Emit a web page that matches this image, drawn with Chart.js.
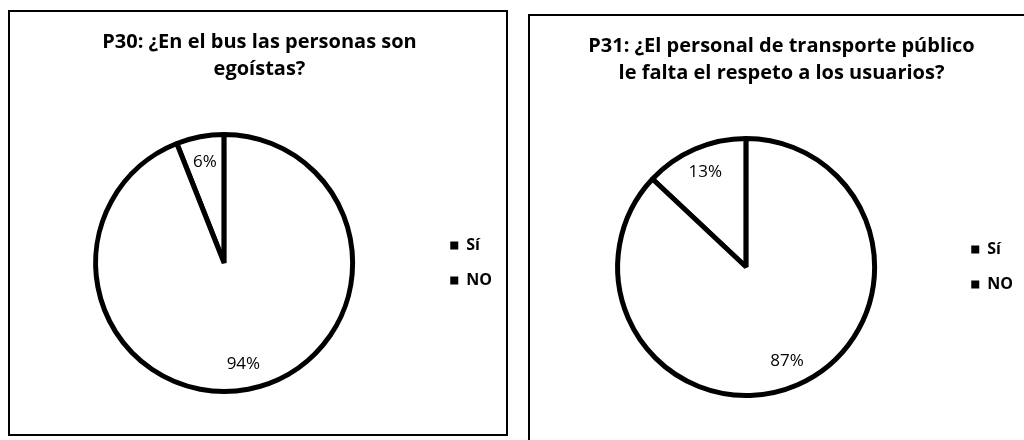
<!DOCTYPE html>
<html>
<head>
<meta charset="utf-8">
<script src="https://cdn.jsdelivr.net/npm/chart.js@4"></script>
<style>
  html, body { margin: 0; padding: 0; background: #fff; overflow: hidden; }
  body { width: 1024px; height: 440px; position: relative; }
  .box { position: absolute; border: 2px solid #000; background: #fff; }
  #box1 { left: 8px; top: 10px; width: 496px; height: 422px; }
  #box2 { left: 528px; top: 14px; width: 510px; height: 440px; }
  canvas { display: block; }
</style>
</head>
<body>
<div class="box" id="box1"><canvas id="chart1" width="496" height="422"></canvas></div>
<div class="box" id="box2"><canvas id="chart2" width="506" height="422"></canvas></div>
<script>
// answers to each question
const categories = ['Sí', 'NO'];
const p30Values = [6, 94];
const p31Values = [13, 87];
const p30Title = ['P30: ¿En el bus las personas son', 'egoístas?'];
const p31Title = ['P31: ¿El personal de transporte público', 'le falta el respeto a los usuarios?'];

Chart.defaults.font.family = '"Open Sans", "Liberation Sans", sans-serif';
Chart.defaults.color = '#000';

// draws the % value inside each slice
const pieLabels = {
    id: 'pieLabels',
    afterDatasetsDraw(chart) {
        const ctx = chart.ctx;
        const meta = chart.getDatasetMeta(0);
        const values = chart.data.datasets[0].data;
        ctx.save();
        ctx.font = '17px "Open Sans", sans-serif';
        ctx.fillStyle = '#000';
        ctx.textAlign = 'center';
        ctx.textBaseline = 'middle';
        meta.data.forEach(function(arc, i) {
            const p = arc.getProps(['x', 'y', 'startAngle', 'endAngle', 'outerRadius'], true);
            const mid = (p.startAngle + p.endAngle) / 2;
            const r = p.outerRadius * 0.8;
            ctx.fillText(values[i] + '%', p.x + Math.cos(mid) * r, p.y + Math.sin(mid) * r);
        });
        ctx.restore();
    }
};

function makePie(id, title, values, padLeft, padRight) {
    const ctx = document.getElementById(id).getContext('2d');
    return new Chart(ctx, {
        type: 'pie',
        data: {
            labels: categories,
            datasets: [{
                data: values,
                backgroundColor: '#fff',
                borderColor: '#000',
                borderWidth: 5
            }]
        },
        options: {
            responsive: false,
            animation: false,
            rotation: -values[0] * 3.6,
            layout: { padding: { left: padLeft, right: padRight, bottom: 40 } },
            plugins: {
                title: {
                    display: true,
                    text: title,
                    color: '#000',
                    font: { size: 20, weight: 'bold', lineHeight: 1.35 },
                    padding: { top: 17, bottom: 49 }
                },
                legend: {
                    position: 'right',
                    fullSize: false,
                    labels: {
                        boxWidth: 8,
                        boxHeight: 8,
                        padding: 19,
                        color: '#000',
                        font: { size: 16, weight: 'bold' },
                        generateLabels: function(chart) {
                            const items = Chart.overrides.pie.plugins.legend.labels.generateLabels(chart);
                            items.forEach(function(it) {
                                it.fillStyle = '#000';
                                it.strokeStyle = '#000';
                                it.lineWidth = 0;
                            });
                            return items;
                        }
                    }
                },
                tooltip: { enabled: false }
            }
        },
        plugins: [pieLabels]
    });
}

makePie('chart1', p30Title, p30Values, 7, 4);
makePie('chart2', p31Title, p31Values, 10, 13);
</script>
</body>
</html>
